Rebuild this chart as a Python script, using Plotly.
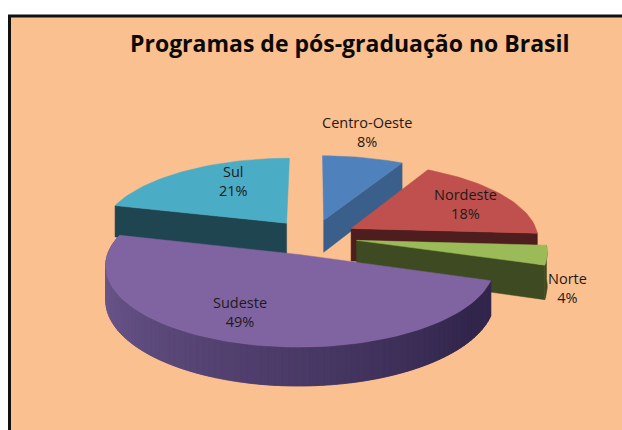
import numpy as np
import plotly.graph_objects as go

TITLE = "Programas de pós-graduação no Brasil"
categories = ["Centro-Oeste", "Nordeste", "Norte", "Sudeste", "Sul"]
values = [8, 18, 4, 49, 21]
top_colors = ["#4F81BD", "#C0504D", "#9BBB59", "#8064A2", "#4BACC6"]
face_colors = ["#3A5F8B", "#4E1E1E", "#3E4A21", "#352A4A", "#1F4550"]
label_pos = [(367, 132), (465, 204), (567, 288), (240, 312), (233, 181)]
draw_order = [0, 4, 1, 2, 3]

BG = "#FBC08F"
VX, VY, RX, RY, D, EXPLODE, DEPTH = 313, 237, 187.5, 76.2, 8.07, 0.235, 33


def project(X, Y, z=0.0):
    X, Y = np.asarray(X, float), np.asarray(Y, float)
    f = D / (D - Y)
    return VX + RX * X * f, VY + RY * Y * f + z * DEPTH * f


cum = np.cumsum([0] + values) / sum(values) * 360
fig = go.Figure()


def poly(x, y, color):
    fig.add_trace(go.Scatter(
        x=list(x), y=list(y), mode="lines", fill="toself", fillcolor=color,
        line=dict(color=color, width=0.5), hoverinfo="skip", showlegend=False,
    ))


def wall(ex, ey, color):
    tx, ty = project(ex, ey, 0)
    bx, by = project(ex, ey, 1)
    poly([*tx, *bx[::-1], tx[0]], [*ty, *by[::-1], ty[0]], color)


for i in draw_order:
    name = categories[i]
    a0, a1 = np.radians(cum[i]), np.radians(cum[i + 1])
    mid = (a0 + a1) / 2
    ox, oy = EXPLODE * np.sin(mid), -EXPLODE * np.cos(mid)
    th = np.linspace(a0, a1, max(8, int(values[i] * 2)))
    ax, ay = ox + np.sin(th), oy - np.cos(th)

    # cut faces turned towards the viewer
    if name in ("Centro-Oeste", "Nordeste", "Norte"):
        wall([ox, ax[-1]], [oy, ay[-1]], face_colors[i])
    elif name == "Sul":
        wall([ox, ax[0]], [oy, ay[0]], face_colors[i])

    # outer rim, lighter on the left and darkening to the right
    if name == "Sudeste":
        light, dark = np.array([112, 90, 145]), np.array([50, 38, 76])
        for k in range(len(th) - 1, 0, -1):
            s = 1 - (th[k] - a0) / (a1 - a0)
            s = min(1.0, max(0.0, (s - 0.1) / 0.8))
            c = light + (dark - light) * s
            lo = max(0, k - 2)
            wall(ax[lo:k + 1], ay[lo:k + 1], "rgb(%d,%d,%d)" % tuple(c))
    elif name == "Norte":
        wall(ax, ay, face_colors[i])

    px, py = project(np.r_[ox, ax, ox], np.r_[oy, ay, oy])
    poly(px, py, top_colors[i])

annotations = [
    dict(x=x, y=y, xref="x", yref="y", showarrow=False,
         text=f"{c}<br>{v}%", align="center",
         font=dict(family="Open Sans", size=14.5, color="#1E1A18"))
    for c, v, (x, y) in zip(categories, values, label_pos)
]
annotations.append(dict(
    x=350, y=43, xref="x", yref="y", showarrow=False, text=f"<b>{TITLE}</b>",
    font=dict(family="Open Sans", size=23, color="#0A0A0A"),
))

fig.update_layout(
    width=622, height=430, margin=dict(l=0, r=0, t=0, b=0),
    paper_bgcolor="white", plot_bgcolor="white", showlegend=False,
    xaxis=dict(range=[0, 622], visible=False, fixedrange=True),
    yaxis=dict(range=[430, 0], visible=False, fixedrange=True),
    annotations=annotations,
    shapes=[dict(type="rect", xref="x", yref="y", x0=9.5, y0=16, x1=630, y1=440,
                 fillcolor=BG, line=dict(color="#111111", width=3), layer="below")],
)
fig.write_html("out.html", config={"displayModeBar": False},
               post_script="document.body.style.margin='0';document.documentElement.style.overflow='hidden';")
